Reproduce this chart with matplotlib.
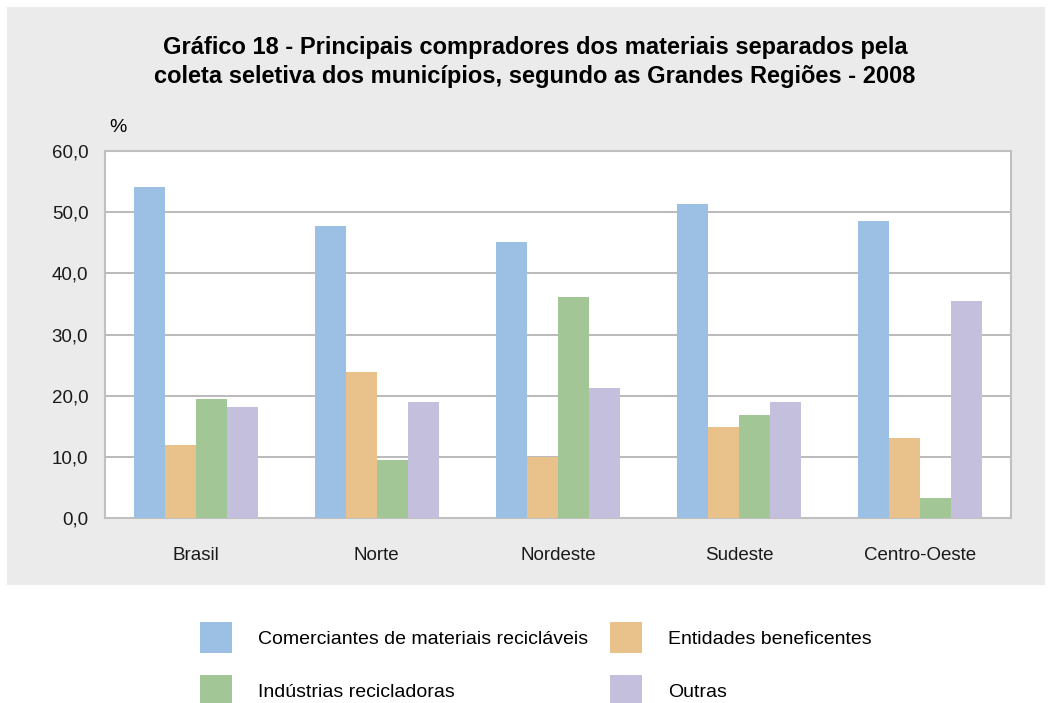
import matplotlib.pyplot as plt
import matplotlib.patches as mpatches
import numpy as np

plt.rcParams['font.family'] = ['Liberation Sans', 'DejaVu Sans']

regioes = ['Brasil', 'Norte', 'Nordeste', 'Sudeste', 'Centro-Oeste']
comerciantes = [54.1, 47.7, 45.1, 51.4, 48.5]
entidades = [12.0, 23.8, 10.0, 14.8, 13.0]
industrias = [19.4, 9.5, 36.2, 16.9, 3.2]
outras = [18.2, 19.0, 21.2, 19.0, 35.4]

series = [
    ('Comerciantes de materiais recicláveis', comerciantes, '#9cc0e4'),
    ('Entidades beneficentes', entidades, '#e9c18a'),
    ('Indústrias recicladoras', industrias, '#a2c696'),
    ('Outras', outras, '#c4bfdc'),
]
yticks = [0, 10, 20, 30, 40, 50, 60]
ytick_labels = ['0,0', '10,0', '20,0', '30,0', '40,0', '50,0', '60,0']

W, H = 1052, 703
fig = plt.figure(figsize=(W / 100, H / 100), dpi=100)
fig.patch.set_facecolor('white')

# gray panel behind the chart
fig.patches.append(mpatches.Rectangle((7 / W, 1 - 585 / H), 1038 / W, 578 / H,
                                      transform=fig.transFigure, facecolor='#ebebeb',
                                      edgecolor='none', zorder=0))

ax = fig.add_axes([105 / W, 1 - 518 / H, 906 / W, 367 / H])
ax.set_zorder(2)
ax.set_facecolor('white')

x = np.arange(len(regioes))
w = 0.171
for i, (name, vals, color) in enumerate(series):
    ax.bar(x + (i - 1.5) * w, vals, width=w, color=color, label=name, zorder=3)

ax.set_xlim(-0.5, len(regioes) - 0.5)
ax.set_ylim(0, 60)
ax.set_yticks(yticks)
ax.set_yticklabels(ytick_labels, fontsize=13.5)
ax.set_xticks(x)
ax.set_xticklabels(regioes, fontsize=13.5)
ax.tick_params(axis='both', length=0, colors='#1a1a1a')
ax.tick_params(axis='y', pad=12)
ax.tick_params(axis='x', pad=21)
ax.yaxis.grid(True, color='#b4b4b4', linewidth=1.3, zorder=1)
for s in ax.spines.values():
    s.set_color('#c0c0c0')
    s.set_linewidth(1.5)

fig.text(118 / W, 1 - 127 / H, '%', fontsize=14, ha='center', va='center')

fig.text(535 / W, 1 - 62 / H,
         'Gráfico 18 - Principais compradores dos materiais separados pela\n'
         'coleta seletiva dos municípios, segundo as Grandes Regiões - 2008',
         fontsize=17, fontweight='bold', ha='center', va='center', linespacing=1.3)

handles, labels = ax.get_legend_handles_labels()
order = [0, 2, 1, 3]
fig.legend([handles[i] for i in order], [labels[i] for i in order],
           loc='upper left', bbox_to_anchor=(200 / W, 1 - 622 / H), ncol=2,
           frameon=False, fontsize=14, handlelength=1.65, handleheight=2.08,
           handletextpad=1.34, columnspacing=1.1, labelspacing=1.13,
           borderpad=0, borderaxespad=0)

fig.savefig('out.png', dpi=100)
